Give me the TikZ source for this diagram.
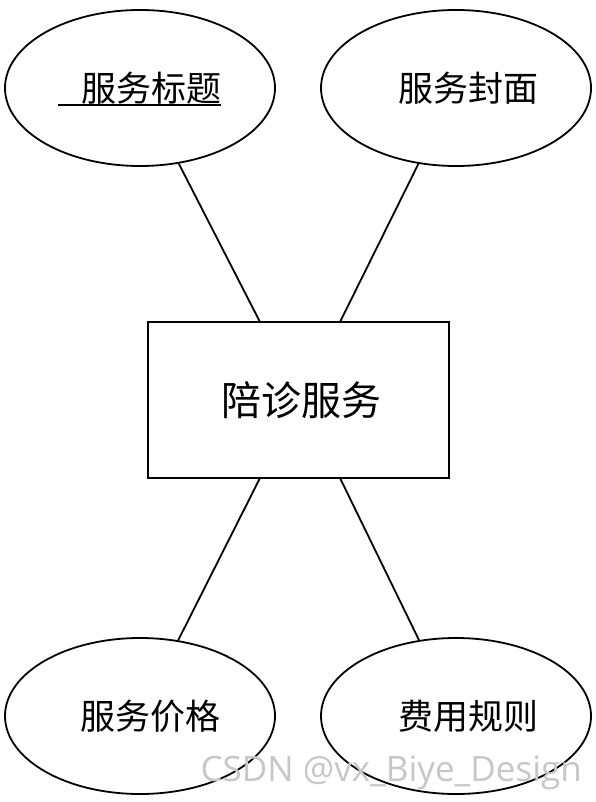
\documentclass[tikz,border=0pt]{standalone}
\usepackage{fontspec}
\setmainfont{Noto Sans CJK SC}
\newfontfamily\wmfont{Open Sans}
\usetikzlibrary{shapes.geometric}
\tikzset{
  attr/.style={ellipse, draw, line width=1.8pt, minimum width=270pt, minimum height=156pt, inner sep=0pt},
  ent/.style={rectangle, draw, line width=1.8pt, minimum width=301pt, minimum height=156pt, inner sep=0pt},
  lab/.style={inner sep=0pt, font=\fontsize{35}{40}\selectfont},
  conn/.style={line width=1.8pt},
}
\begin{document}
\begin{tikzpicture}[x=1pt,y=-1pt]
\useasboundingbox (0,0) rectangle (596,802);
\node[ent] (e) at (298.5,400) {};
\node[font=\fontsize{40}{44}\selectfont, inner sep=0pt] (elab) at (301,400) {陪诊服务};
\node[attr] (a1) at (140,88) {};
\node[attr] (a2) at (456,88) {};
\node[attr] (a3) at (140,716) {};
\node[attr] (a4) at (456,716) {};
\node[lab] (l1) at (151,88) {服务标题};
\node[lab] (l2) at (468,88) {服务封面};
\node[lab] (l3) at (150,716) {服务价格};
\node[lab] (l4) at (468,716) {费用规则};
\coordinate (u1) at ([xshift=-23pt,yshift=-4pt]l1.base west);
\coordinate (u2) at ([yshift=-4pt]l1.base east);
\draw[line width=1.6pt] (u1) -- (u2);
\coordinate (c1) at (260,322);
\coordinate (c2) at (340,322);
\coordinate (c3) at (260,478);
\coordinate (c4) at (340,478);
\draw[conn] (a1) -- (c1);
\draw[conn] (a2) -- (c2);
\draw[conn] (a3) -- (c3);
\draw[conn] (a4) -- (c4);
\node[text=black!22, font=\wmfont\fontsize{35}{40}\selectfont, inner sep=0pt, anchor=east] (wm) at (582,773) {CSDN @vx\_Biye\_Design};
\end{tikzpicture}
\end{document}
